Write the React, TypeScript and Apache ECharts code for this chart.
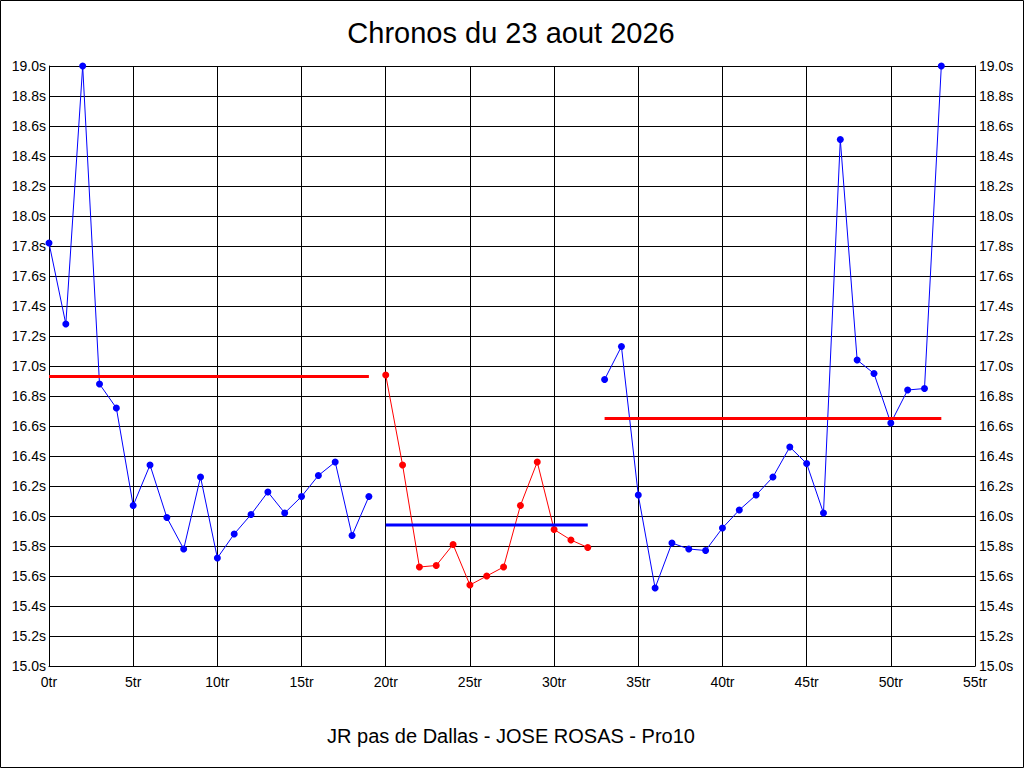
import React, { useEffect, useRef } from "react";
import * as echarts from "echarts";

// Lap times (seconds), index = lap number ("tr")
const lapTimes: number[] = [
  17.82, 17.28, 19.0, 16.88, 16.72, 16.07, 16.34, 15.99, 15.78, 16.26,
  15.72, 15.88, 16.01, 16.16, 16.02, 16.13, 16.27, 16.36, 15.87, 16.13,
  16.94, 16.34, 15.66, 15.67, 15.81, 15.54, 15.6, 15.66, 16.07, 16.36,
  15.91, 15.84, 15.79,
  16.91, 17.13, 16.14, 15.52, 15.82, 15.78, 15.77, 15.92, 16.04, 16.14,
  16.26, 16.46, 16.35, 16.02, 18.51, 17.04, 16.95, 16.62, 16.84, 16.85, 19.0,
];

// Stints: first lap, last lap, line colour
const stintStart: number[] = [0, 20, 33];
const stintEnd: number[] = [19, 32, 53];
const stintColor: string[] = ["#0000FF", "#FF0000", "#0000FF"];

// Reference (average) lines per stint
const refValues: number[] = [16.93, 15.94, 16.65];
const refColor: string[] = ["#FF0000", "#0000FF", "#FF0000"];

const xTicks = { min: 0, max: 55, interval: 5 };
const yTicks = { min: 15, max: 19, interval: 0.2 };

const titleText = "Chronos du 23 aout 2026";
const subtitleText = "JR pas de Dallas - JOSE ROSAS - Pro10";

const FONT = "'Liberation Sans', Arial, sans-serif";

export default function App() {
  const ref = useRef<HTMLDivElement>(null);

  useEffect(() => {
    if (!ref.current) return;
    const chart = echarts.init(ref.current, undefined, { renderer: "svg" });

    const dataSeries: any[] = stintStart.map((s, k) => ({
      type: "line",
      name: "stint" + k,
      xAxisIndex: 0,
      yAxisIndex: 0,
      data: lapTimes.slice(s, stintEnd[k] + 1).map((v, i) => [s + i, v]),
      lineStyle: { color: stintColor[k], width: 1 },
      itemStyle: { color: stintColor[k] },
      symbol: "circle",
      symbolSize: 7,
      showSymbol: true,
      z: 3,
    }));

    const refSeries: any[] = refValues.map((v, k) => ({
      type: "line",
      name: "ref" + k,
      xAxisIndex: 0,
      yAxisIndex: 0,
      data: [
        [stintStart[k], v],
        [stintEnd[k], v],
      ],
      lineStyle: { color: refColor[k], width: 3 },
      showSymbol: false,
      symbol: "none",
      z: 4,
    }));

    const labelStyle = { color: "#000", fontSize: 14, fontFamily: FONT };

    chart.setOption({
      animation: false,
      backgroundColor: "#fff",
      grid: { left: 49, right: 49, top: 66, bottom: 102, containLabel: false },
      xAxis: {
        type: "value",
        min: xTicks.min,
        max: xTicks.max,
        interval: xTicks.interval,
        axisLine: { show: true, onZero: false, lineStyle: { color: "#000", width: 1 } },
        axisTick: { show: false },
        axisLabel: { ...labelStyle, margin: 9, formatter: (v: number) => `${v}tr` },
        splitLine: { show: true, lineStyle: { color: "#000", width: 1 } },
      },
      yAxis: [
        {
          type: "value",
          position: "left",
          min: yTicks.min,
          max: yTicks.max,
          interval: yTicks.interval,
          axisLine: { show: true, lineStyle: { color: "#000", width: 1 } },
          axisTick: { show: false },
          axisLabel: { ...labelStyle, margin: 3, formatter: (v: number) => `${v.toFixed(1)}s` },
          splitLine: { show: true, lineStyle: { color: "#000", width: 1 } },
        },
        {
          type: "value",
          position: "right",
          min: yTicks.min,
          max: yTicks.max,
          interval: yTicks.interval,
          axisLine: { show: true, lineStyle: { color: "#000", width: 1 } },
          axisTick: { show: false },
          axisLabel: { ...labelStyle, margin: 4, formatter: (v: number) => `${v.toFixed(1)}s` },
          splitLine: { show: false },
        },
      ],
      graphic: [
        {
          type: "rect",
          shape: { x: 0.5, y: 0.5, width: 1023, height: 767 },
          style: { fill: "none", stroke: "#000", lineWidth: 1 },
          silent: true,
          z: 10,
        },
        {
          type: "text",
          x: 511,
          y: 33,
          style: {
            text: titleText,
            fill: "#000",
            font: `29px ${FONT}`,
            textAlign: "center",
            textVerticalAlign: "middle",
          },
        },
        {
          type: "text",
          x: 511,
          y: 736,
          style: {
            text: subtitleText,
            fill: "#000",
            font: `20px ${FONT}`,
            textAlign: "center",
            textVerticalAlign: "middle",
          },
        },
      ],
      series: [...dataSeries, ...refSeries],
    });

    return () => chart.dispose();
  }, []);

  return (
    <div
      ref={ref}
      style={{ position: "fixed", left: 0, top: 0, width: 1024, height: 768, background: "#fff" }}
    />
  );
}
